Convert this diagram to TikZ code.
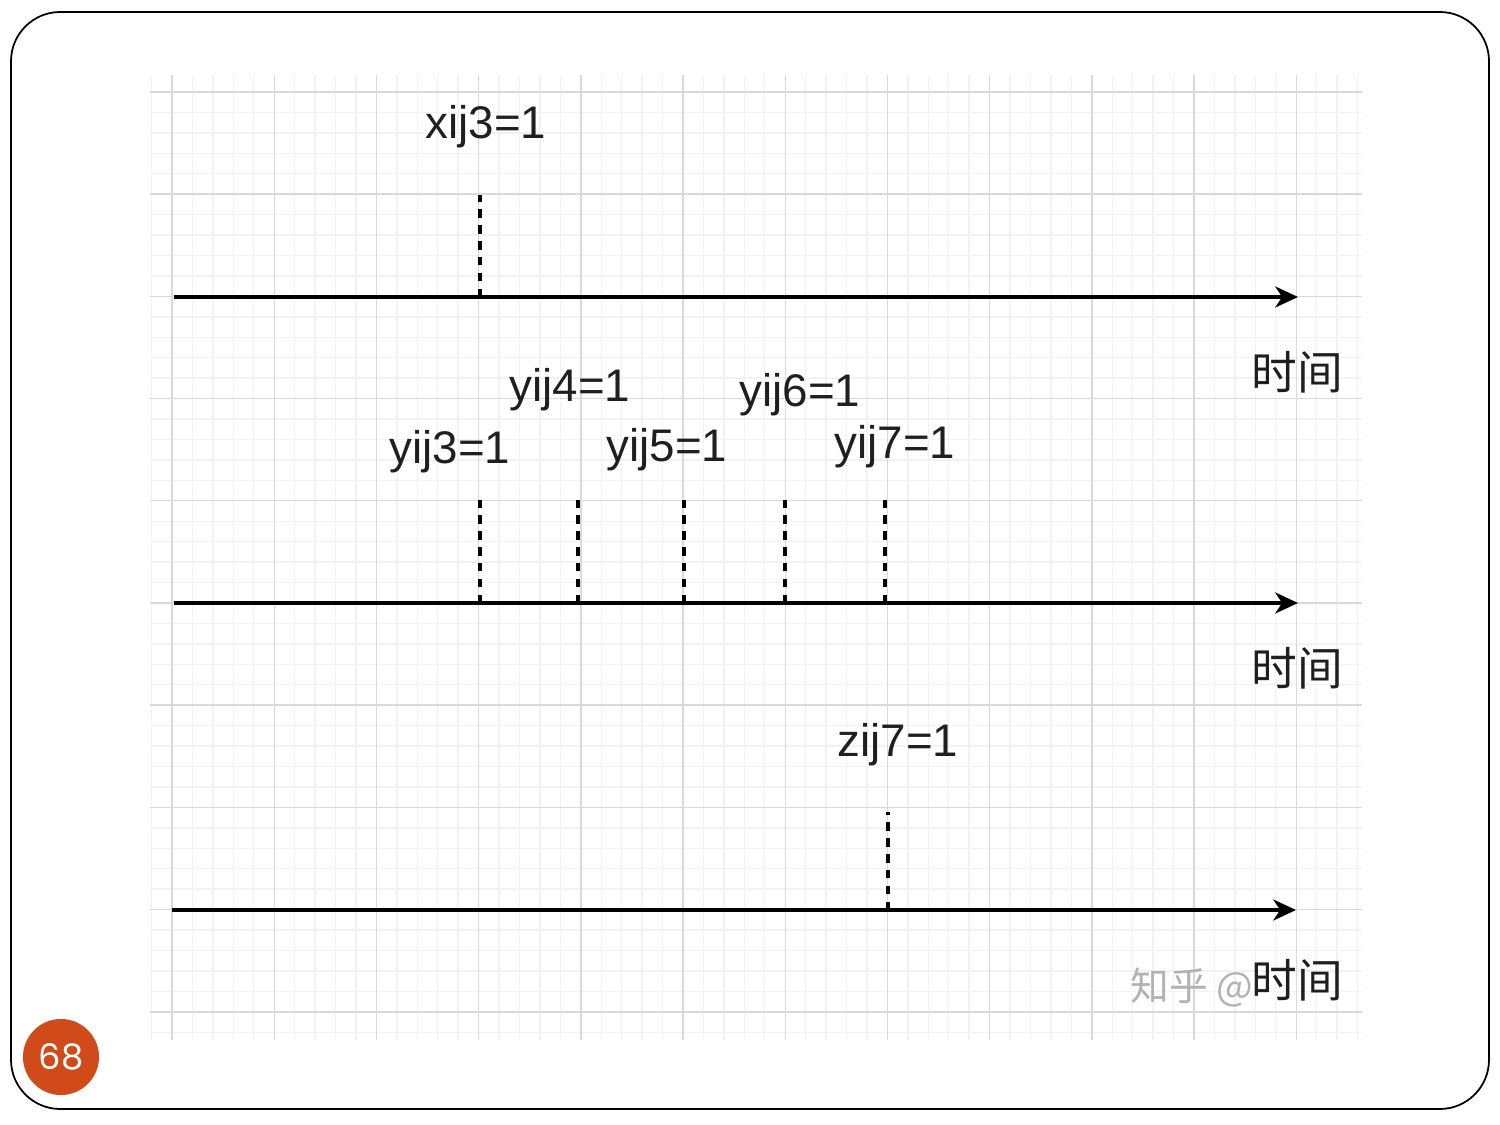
\documentclass[tikz,border=0pt]{standalone}
\usepackage{fontspec}
\usepackage{xcolor}
\setmainfont{Liberation Sans}
\newfontfamily\cjk{Noto Sans CJK SC}
\newfontfamily\badgefont{Poppins}
\usetikzlibrary{arrows.meta}
\definecolor{badge_orange}{HTML}{D04A1A}
\definecolor{grid_minor}{HTML}{F2F2F2}
\definecolor{grid_major}{HTML}{D9D9D9}

\tikzset{
  time axis/.style={line width=0.9pt, -{Stealth[length=6.5pt,width=6pt,inset=2pt]}},
  mark line/.style={line width=1.1pt, dash pattern=on 2.4pt off 2.1pt},
  var label/.style={font=\fontsize{13}{16}\selectfont, text=black!88},
  time label/.style={font=\cjk\fontsize{13}{16}\selectfont, text=black!88},
}

\begin{document}
\begin{tikzpicture}[x=0.01cm,y=-0.01cm]
        \useasboundingbox (0,0) rectangle (1500,1125);
        % Grille fine
        \foreach \i in {-1,...,58} {
        \draw[grid_minor, line width=0.4pt] (172+20.44*\i,75) -- (172+20.44*\i,1040);
        }
        \foreach \j in {0,...,46} {
        \draw[grid_minor, line width=0.4pt] (150,92+20.44*\j) -- (1362,92+20.44*\j);
        }
        % Grille principale
        \foreach \i in {0,...,11} {
        \draw[grid_major, line width=0.4pt] (172+102.2*\i,75) -- (172+102.2*\i,1040);
        }
        \foreach \j in {0,...,9} {
        \draw[grid_major, line width=0.4pt] (150,92+102.2*\j) -- (1362,92+102.2*\j);
        }

        % Cadre
        \draw[line width=0.5pt, rounded corners=14pt] (11,12) rectangle (1489,1109);

        % Axe x
        \coordinate (Xs) at (174,297);
        \coordinate (Xe) at (1298,297);
        \draw[time axis] (Xs) -- (Xe);
        \coordinate (X3) at (480,297);
        \coordinate (X3t) at (480,195);
        \draw[mark line] (X3) -- (X3t);
        \node[var label] (lx3) at (486,127) {xij3=1};
        \node[time label] (t1) at (1297,372) {时间};

        % Axe y
        \coordinate (Ys) at (174,603);
        \coordinate (Ye) at (1298,603);
        \draw[time axis] (Ys) -- (Ye);
        \foreach \x/\n in {480/3, 578/4, 684/5, 785/6, 885/7} {
        \coordinate (Y\n) at (\x,603);
        \coordinate (Y\n t) at (\x,500);
        \draw[mark line] (Y\n) -- (Y\n t);
        }
        \foreach \n/\pos in {3/{(450,452)}, 4/{(570,390)}, 5/{(667,450)}, 6/{(800,395)}, 7/{(895,447)}} {
        \node[var label] (ly\n) at \pos {yij\n=1};
        }
        \node[time label] (t2) at (1297,668) {时间};

        % Axe z
        \coordinate (Zs) at (172,910);
        \coordinate (Ze) at (1296,910);
        \draw[time axis] (Zs) -- (Ze);
        \coordinate (Z7) at (888,910);
        \coordinate (Z7t) at (888,812);
        \draw[mark line] (Z7) -- (Z7t);
        \node[var label] (lz7) at (898,745) {zij7=1};
        \node[anchor=west, inner sep=0pt, font=\cjk\fontsize{11}{14}\selectfont, text=black!30] (wm) at (1130,988) {知乎 @};
        \node[time label] (t3) at (1297,980) {时间};

        % Numéro de page
        \node[circle, fill=badge_orange, minimum size=0.76cm, inner sep=0pt, text=white, font=\badgefont\fontsize{10}{12}\selectfont] (page) at (61,1057) {68};
\end{tikzpicture}
\end{document}
